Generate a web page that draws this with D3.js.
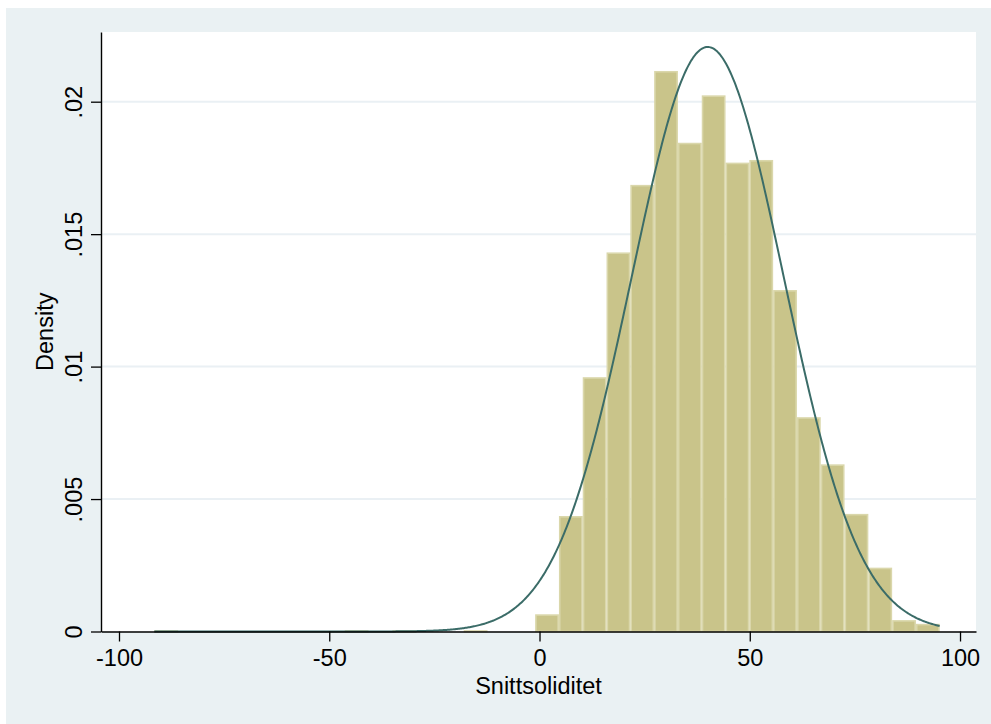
<!DOCTYPE html>
<html>
<head>
<meta charset="utf-8">
<script src="https://cdn.jsdelivr.net/npm/d3@7"></script>
<style>
  html, body { margin: 0; padding: 0; background: #ffffff; }
  svg { display: block; }
  text { font-family: "Liberation Sans", Arial, Helvetica, sans-serif; fill: #000; }
</style>
</head>
<body>
<svg id="chart" width="991" height="724"></svg>
<script>
// Histogram of Snittsoliditet (density scale) with a normal density overlay.
const binStart = -91.6;
const binWidth = 5.66;
const binDensities = [
  0.00005, 0, 0, 0, 0, 0, 0, 0, 0.00005, 0,
  0.00005, 0, 0, 0.00005, 0, 0, 0.00065, 0.00436, 0.0096, 0.01431,
  0.01686, 0.02116, 0.01845, 0.02024, 0.0177, 0.0178, 0.01289, 0.00809, 0.00631, 0.00444,
  0.00241, 0.00043, 0.00029
];
const xTickValues = [-100, -50, 0, 50, 100];
const xTickLabels = ["-100", "-50", "0", "50", "100"];
const yTickValues = [0, 0.005, 0.01, 0.015, 0.02];
const yTickLabels = ["0", ".005", ".01", ".015", ".02"];
const normalMean = 40.0;
const normalSd = 18.08;
const xTitle = "Snittsoliditet";
const yTitle = "Density";

const svg = d3.select("#chart");
const W = 991, H = 724;
const plot = { left: 101, right: 976, top: 32, bottom: 631.5 };

const x = d3.scaleLinear().domain([-104.28, 103.80]).range([plot.left, plot.right]);
const y = d3.scaleLinear().domain([0, 0.022631]).range([plot.bottom, plot.top]);

// outer graph region
svg.append("rect").attr("x", 6).attr("y", 8).attr("width", W - 6).attr("height", H - 8)
  .attr("fill", "#eaf1f3");
// plot region
svg.append("rect").attr("x", plot.left).attr("y", plot.top)
  .attr("width", plot.right - plot.left).attr("height", plot.bottom - plot.top)
  .attr("fill", "#ffffff");

// horizontal grid lines
svg.append("g").selectAll("line")
  .data(yTickValues.filter(v => v > 0))
  .join("line")
  .attr("x1", plot.left).attr("x2", plot.right)
  .attr("y1", d => y(d)).attr("y2", d => y(d))
  .attr("stroke", "#eaf0f4").attr("stroke-width", 2);

// histogram bars
const bins = binDensities.map((d, i) => ({
  x0: binStart + i * binWidth,
  x1: binStart + (i + 1) * binWidth,
  density: d
})).filter(b => b.density > 0);

svg.append("g").selectAll("rect")
  .data(bins)
  .join("rect")
  .attr("x", d => x(d.x0) + 0.8)
  .attr("width", d => x(d.x1) - x(d.x0) - 1.6)
  .attr("y", d => y(d.density) + 0.8)
  .attr("height", d => Math.max(0.6, y(0) - y(d.density) - 0.8))
  .attr("fill", "#c9c48a")
  .attr("stroke", "#dad7ab")
  .attr("stroke-width", 1.6);

// normal density overlay across the data range
const binEnd = binStart + binDensities.length * binWidth;
const curvePts = d3.range(binStart, binEnd + 0.001, 0.25).map(v => [
  v,
  Math.exp(-0.5 * Math.pow((v - normalMean) / normalSd, 2)) / (normalSd * Math.sqrt(2 * Math.PI))
]);
svg.append("path")
  .datum(curvePts)
  .attr("fill", "none")
  .attr("stroke", "#3b6c68")
  .attr("stroke-width", 2)
  .attr("d", d3.line().x(d => x(d[0])).y(d => y(d[1])).curve(d3.curveLinear));

// axes
const xAxis = d3.axisBottom(x)
  .tickValues(xTickValues)
  .tickFormat((d, i) => xTickLabels[i])
  .tickSize(10).tickSizeOuter(0).tickPadding(8);
const gx = svg.append("g").attr("transform", `translate(0,${plot.bottom})`).call(xAxis);
gx.select(".domain").attr("stroke", "#000").attr("stroke-width", 1.4);
gx.selectAll(".tick line").attr("stroke", "#000").attr("stroke-width", 1.3);
gx.selectAll(".tick text")
  .attr("font-size", "23.5px")
  .attr("y", null).attr("dy", null)
  .attr("transform", null)
  .attr("y", 666 - plot.bottom);

const yAxis = d3.axisLeft(y)
  .tickValues(yTickValues)
  .tickFormat((d, i) => yTickLabels[i])
  .tickSize(10).tickSizeOuter(0);
const gy = svg.append("g").attr("transform", `translate(${plot.left},0)`).call(yAxis);
gy.select(".domain").attr("stroke", "#000").attr("stroke-width", 1.4);
gy.selectAll(".tick line").attr("stroke", "#000").attr("stroke-width", 1.3);
gy.selectAll(".tick text")
  .attr("font-size", "23.5px")
  .attr("x", null).attr("dy", null)
  .attr("text-anchor", "middle")
  .attr("transform", `translate(${82 - plot.left},0) rotate(-90)`);

// axis titles
svg.append("text")
  .attr("x", (plot.left + plot.right) / 2).attr("y", 694)
  .attr("text-anchor", "middle")
  .attr("font-size", "23.5px")
  .text(xTitle);
svg.append("text")
  .attr("transform", `translate(53,${(plot.top + plot.bottom) / 2}) rotate(-90)`)
  .attr("text-anchor", "middle")
  .attr("font-size", "23.5px")
  .text(yTitle);
</script>
</body>
</html>
